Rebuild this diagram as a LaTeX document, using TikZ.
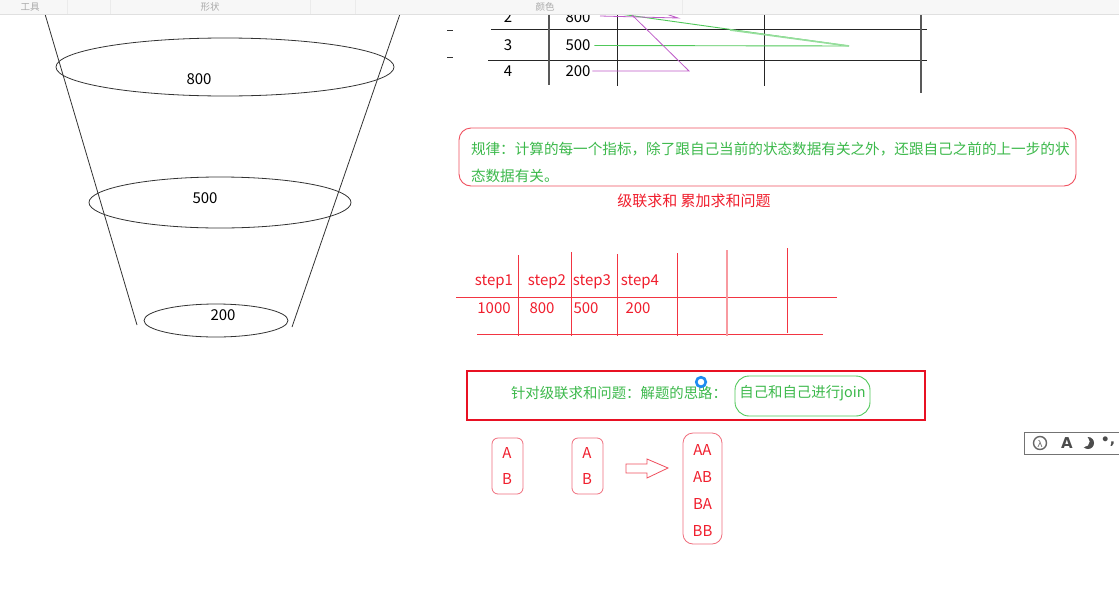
\documentclass[tikz,border=0pt]{standalone}
\usepackage{fontspec}
\setmainfont{Noto Sans CJK SC}
\newfontfamily\djv{DejaVu Sans}
\definecolor{gtxt}{RGB}{60,185,75}
\definecolor{rtxt}{RGB}{240,30,45}
\definecolor{rline}{RGB}{240,80,95}
\definecolor{pk}{RGB}{240,110,125}
\definecolor{purp}{RGB}{190,90,200}
\definecolor{lgreen}{RGB}{80,200,90}
\definecolor{bigred}{RGB}{232,17,35}
\definecolor{pinblue}{RGB}{30,140,240}
\definecolor{bartxt}{RGB}{170,170,170}
\begin{document}
\begin{tikzpicture}[x=1pt,y=-1pt,
  every node/.style={inner sep=0pt,outer sep=0pt},
  blk/.style={font=\fontsize{15}{18}\selectfont,text=black},
  rt/.style={font=\fontsize{15}{18}\selectfont,text=rtxt},
  gt/.style={font=\fontsize{14.6}{18}\selectfont,text=gtxt},
  gts/.style={font=\fontsize{14.4}{18}\selectfont,text=gtxt},
  funnel/.style={draw=black!80,line width=0.8},
  tline/.style={draw=black!85,line width=1},
  tvert/.style={draw=black!65,line width=1.2},
  sline/.style={draw=rtxt!90,line width=0.9},
  abbox/.style={draw=pk,line width=0.8,rounded corners=6},
  bartext/.style={font=\fontsize{9.5}{11}\selectfont,text=bartxt}]
\useasboundingbox (0,0) rectangle (1119,592);
\fill[white] (0,0) rectangle (1119,592);

% ---------- funnel ----------
\coordinate (fl1) at (45,14); \coordinate (fl2) at (137,325);
\coordinate (fr1) at (400,14); \coordinate (fr2) at (292,327);
\draw[funnel] (fl1) -- (fl2);
\draw[funnel] (fr1) -- (fr2);
\draw[funnel] (225,67) ellipse [x radius=169pt, y radius=29pt];
\draw[funnel] (220,202.5) ellipse [x radius=131pt, y radius=25.5pt];
\draw[funnel] (216,320.5) ellipse [x radius=72pt, y radius=16.5pt];
\node[blk] (f800) at (199,79) {800};
\node[blk] (f500) at (205,198) {500};
\node[blk] (f200) at (223,315) {200};

% ---------- top table ----------
\draw[black!80] (447,30) -- (453,30);
\draw[black!80] (447,57) -- (453,57);
\draw[tline] (491,29) -- (927,29);
\draw[tline] (488,60) -- (927,60);
\draw[tvert] (549,14) -- (549,85);
\draw[tline] (617,14) -- (617,86);
\draw[tline] (764,14) -- (764,86);
\draw[tvert] (921,14) -- (921,93);
\node[blk] (t2) at (508,17.5) {2};
\node[blk] (t800) at (578,17.5) {800};
\node[blk] (t3) at (508,45.5) {3};
\node[blk] (t500) at (578,45.5) {500};
\node[blk] (t4) at (508,71) {4};
\node[blk] (t200) at (578,71) {200};
\draw[lgreen,line width=0.9] (t500.east)++(4,0) -- (849,46) -- (620,14);
\draw[lgreen!60,line width=1.6] (849,46) -- (730,30);
\draw[purp,line width=0.8] (t200.east)++(2,0) -- (689,71) -- (631,14);
\draw[purp,line width=0.8] (600,16) -- (678,18) -- (666,14);

% ---------- top toolbar ----------
\fill[black!3] (0,0) rectangle (1119,14);
\draw[black!12] (0,14.5) -- (1119,14.5);
\foreach \sx in {67,110,310,355,682} \draw[black!8] (\sx,0) -- (\sx,14);
\node[bartext] (bar1) at (30,7) {工具};
\node[bartext] (bar2) at (210,7) {形状};
\node[bartext] (bar3) at (545,7) {颜色};

% ---------- rule box ----------
\node[draw=rline,line width=0.9,rounded corners=12,minimum width=617,minimum height=58] (rule) at (767.5,157) {};
\node[gt,anchor=west] (rule1) at (471,149) {规律：计算的每一个指标，除了跟自己当前的状态数据有关之外，还跟自己之前的上一步的状};
\node[gt,anchor=west] (rule2) at (471,176) {态数据有关。};
\node[rt] (sub) at (694,201) {级联求和 累加求和问题};

% ---------- step table ----------
\draw[sline] (456,297) -- (837,297);
\draw[sline] (477,334) -- (823,334);
\draw[sline] (518,255) -- (518,336);
\draw[sline] (571,252) -- (571,336);
\draw[sline] (617,254) -- (617,336);
\draw[sline] (677,253) -- (677,336);
\draw[draw=rtxt!45,line width=1.2] (727,250) -- (727,336);
\draw[sline] (787,248) -- (787,333);
\node[rt] (s1) at (494,282) {step1};
\node[rt] (s2) at (547,282) {step2};
\node[rt] (s3) at (592,282) {step3};
\node[rt] (s4) at (640,282) {step4};
\node[rt] (v1) at (494,308) {1000};
\node[rt] (v2) at (542,308) {800};
\node[rt] (v3) at (586,308) {500};
\node[rt] (v4) at (638,308) {200};

% ---------- red box ----------
\node[draw=bigred,line width=2.6,minimum width=458,minimum height=49] (redbox) at (696,395.5) {};
\node[gts,anchor=west] (idea) at (511,393) {针对级联求和问题：解题的思路：};
\node[draw=lgreen,line width=0.9,rounded corners=14,minimum width=135,minimum height=40] (joinbox) at (802.5,396) {};
\node[gts] (join) at (802.5,393) {自己和自己进行join};
\draw[pinblue,line width=2.6] (701,382) circle (4.8pt);

% ---------- AB boxes ----------
\draw[abbox] (492,438) rectangle (523,494);
\node[rt] (a1) at (507,453) {A};
\node[rt] (b1) at (507,479) {B};
\draw[abbox] (572,438) rectangle (603,494);
\node[rt] (a2) at (587,453) {A};
\node[rt] (b2) at (587,479) {B};
\draw[draw=rline,line width=0.8] (626,464) -- (647,464) -- (647,459) -- (668,468) -- (647,478) -- (647,473) -- (626,473) -- cycle;
\draw[abbox,rounded corners=10] (683,433) rectangle (722,544);
\node[rt] (aa) at (702.5,450) {AA};
\node[rt] (ab) at (702.5,477) {AB};
\node[rt] (ba) at (702.5,504) {BA};
\node[rt] (bb) at (702.5,531) {BB};

% ---------- IME bar ----------
\draw[black!55,fill=white,line width=0.9] (1024,432) rectangle (1125,454);
\draw[black!60,line width=1.4] (1040,443) circle (6.5pt);
\node[font=\djv\fontsize{9}{10}\selectfont,text=black!60] (ime0) at (1040,444) {λ};
\node[font=\djv\bfseries\fontsize{15}{16}\selectfont,text=black!70] (ime1) at (1067,443) {A};
\fill[black!70] (1088,443) circle (6pt);
\fill[white] (1084,441.5) circle (5.6pt);
\node[font=\djv\bfseries\fontsize{14}{16}\selectfont,text=black!70] (ime3) at (1108,442) {•,};
\end{tikzpicture}
\end{document}
